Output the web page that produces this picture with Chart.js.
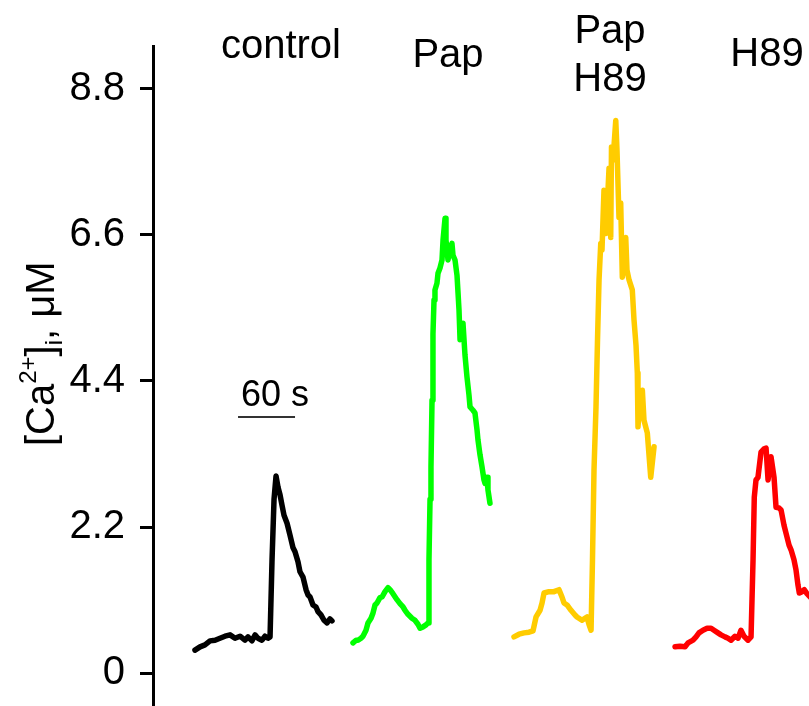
<!DOCTYPE html>
<html>
<head>
<meta charset="utf-8">
<script src="https://cdn.jsdelivr.net/npm/chart.js@4"></script>
<style>
  html, body { margin: 0; padding: 0; background: #fff; }
  canvas { display: block; }
</style>
</head>
<body>
<canvas id="ca-chart" width="809" height="706"></canvas>
<script>
  // time in s, [Ca2+]i in uM
  const conditions = ['control', 'Pap', ['Pap', 'H89'], 'H89'];
  const traceColors = ['#000000', '#00ff00', '#ffcc00', '#ff0000'];
  const yTicks = [0, 2.2, 4.4, 6.6, 8.8];

  const timeControl = [44.2, 49.5, 54.7, 60.0, 65.3, 70.5, 75.8, 81.1, 86.3, 91.6,
    96.8, 100.0, 104.2, 107.4, 110.5, 114.7, 117.9, 121.1, 123.2, 125.3,
    127.4, 129.5, 131.6, 133.7, 135.8, 137.9, 141.1, 144.2, 147.4, 149.5,
    152.6, 154.7, 157.9, 161.1, 163.2, 165.3, 168.4, 171.6, 173.7, 176.8,
    180.0, 183.2, 186.3, 188.4];
  const caControl = [0.35, 0.40, 0.43, 0.49, 0.50, 0.53, 0.56, 0.58, 0.53, 0.56,
    0.50, 0.55, 0.49, 0.58, 0.53, 0.50, 0.56, 0.53, 0.55, 1.71,
    2.62, 2.97, 2.80, 2.69, 2.53, 2.38, 2.26, 2.08, 1.89, 1.83,
    1.68, 1.53, 1.45, 1.26, 1.18, 1.15, 1.03, 1.00, 0.93, 0.88,
    0.80, 0.76, 0.82, 0.79];

  const timePap = [210.5, 213.7, 215.8, 218.9, 221.0, 224.2, 226.3, 229.5, 231.6, 233.7,
    235.8, 238.9, 241.1, 244.2, 247.4, 249.5, 252.6, 256.8, 260.0, 263.2,
    265.3, 268.4, 272.6, 275.8, 278.9, 281.1, 284.2, 287.4, 289.5, 290.5,
    291.6, 292.6, 293.7, 294.7, 295.8, 296.8, 298.9, 300.0, 302.1, 304.2,
    305.3, 307.4, 308.4, 310.5, 312.6, 314.7, 315.8, 317.9, 320.0, 321.1,
    322.1, 323.2, 325.3, 326.3, 328.4, 330.5, 332.6, 333.7, 336.8, 338.9,
    341.1, 342.1, 344.2, 346.3, 348.4, 349.5, 351.6, 352.6, 354.7];
  const caPap = [0.46, 0.50, 0.50, 0.53, 0.56, 0.65, 0.76, 0.83, 0.91, 1.03,
    1.06, 1.14, 1.15, 1.23, 1.29, 1.26, 1.20, 1.11, 1.05, 1.00,
    0.95, 0.89, 0.83, 0.80, 0.74, 0.68, 0.70, 0.73, 0.76, 1.71,
    2.62, 3.11, 4.11, 5.11, 5.62, 5.77, 5.87, 6.02, 6.10, 6.22,
    6.52, 6.85, 6.52, 6.22, 6.37, 6.47, 6.29, 6.22, 5.99, 5.72,
    5.47, 5.02, 5.17, 5.27, 4.79, 4.46, 4.19, 4.01, 3.96, 3.92,
    3.66, 3.51, 3.29, 3.11, 2.91, 2.86, 2.95, 2.76, 2.56];

  const timePapH89 = [380.0, 385.3, 390.5, 395.8, 400.0, 403.2, 407.4, 409.5, 411.6, 416.8,
    422.1, 427.4, 430.5, 432.6, 435.8, 440.0, 444.2, 446.3, 451.6, 454.7,
    456.8, 458.9, 461.1, 462.6, 464.2, 466.3, 467.9, 469.5, 471.3, 472.6,
    474.7, 476.8, 480.0, 481.8, 482.6, 484.2, 487.1, 488.4, 490.5, 492.3,
    494.0, 495.8, 497.6, 498.9, 501.1, 504.5, 506.3, 508.4, 509.8, 510.5,
    512.6, 515.1, 516.8, 520.3, 523.9, 527.4];
  const caPapH89 = [0.55, 0.59, 0.61, 0.62, 0.64, 0.85, 0.95, 1.06, 1.21, 1.23,
    1.23, 1.26, 1.15, 1.06, 1.03, 0.95, 0.88, 0.85, 0.80, 0.83,
    0.85, 0.74, 0.65, 1.71, 3.06, 4.01, 5.02, 5.92, 6.47, 6.37,
    7.27, 6.62, 7.60, 6.56, 7.92, 7.72, 8.32, 7.87, 6.86, 7.08,
    5.96, 6.22, 6.56, 6.07, 5.92, 5.77, 5.32, 4.94, 4.52, 3.71,
    4.11, 4.26, 3.81, 3.62, 2.95, 3.41];

  const timeH89 = [549.5, 554.7, 560.0, 563.2, 568.4, 571.6, 574.7, 578.9, 583.2, 587.4,
    590.5, 594.7, 597.9, 602.1, 605.3, 608.4, 612.6, 615.8, 618.9, 622.1,
    626.3, 629.5, 631.6, 632.9, 634.7, 636.8, 640.0, 643.2, 645.3, 647.4,
    650.5, 653.7, 655.8, 658.9, 661.1, 664.2, 666.3, 669.5, 671.6, 674.7,
    676.8, 678.9, 680.3, 683.2, 685.6, 688.4, 691.6, 694.7];
  const caH89 = [0.40, 0.41, 0.40, 0.46, 0.50, 0.55, 0.61, 0.65, 0.68, 0.68,
    0.65, 0.61, 0.58, 0.55, 0.53, 0.50, 0.56, 0.53, 0.65, 0.56,
    0.50, 0.55, 1.71, 2.65, 2.91, 2.95, 3.33, 3.38, 3.39, 2.91,
    3.26, 2.95, 2.50, 2.49, 2.46, 2.23, 2.11, 1.93, 1.86, 1.71,
    1.56, 1.33, 1.21, 1.23, 1.26, 1.20, 1.15, 1.11];

  const scaleBarSeconds = 60;

  const FONT = '"Liberation Sans", Arial, sans-serif';

  function toPoints(times, values) {
    return times.map((t, i) => ({ x: t, y: values[i] }));
  }

  const traces = [
    toPoints(timeControl, caControl),
    toPoints(timePap, caPap),
    toPoints(timePapH89, caPapH89),
    toPoints(timeH89, caH89),
  ];

  // labels, scale bar and axis title drawn on top
  const annotations = {
    id: 'annotations',
    afterDraw(chart) {
      const ctx = chart.ctx;
      const x = chart.scales.x;
      const y = chart.scales.y;

      ctx.save();
      ctx.fillStyle = '#000';
      ctx.textAlign = 'center';
      ctx.textBaseline = 'alphabetic';
      ctx.font = '40px ' + FONT;

      // condition labels above each trace
      const labelX = [134.7, 310.5, 481.0, 646.3];
      const labelBase = [58, 67, 43, 66];
      conditions.forEach((label, i) => {
        const px = x.getPixelForValue(labelX[i]);
        const lines = Array.isArray(label) ? label : [label];
        lines.forEach((line, j) => {
          ctx.fillText(line, px, labelBase[i] + j * 48);
        });
      });

      // 60 s scale bar
      const barStart = 89.5;
      const barY = y.getPixelForValue(3.86);
      ctx.strokeStyle = '#333';
      ctx.lineWidth = 2;
      ctx.beginPath();
      ctx.moveTo(x.getPixelForValue(barStart), barY);
      ctx.lineTo(x.getPixelForValue(barStart + scaleBarSeconds), barY);
      ctx.stroke();
      ctx.textAlign = 'left';
      ctx.font = '36px ' + FONT;
      ctx.fillText(scaleBarSeconds + ' s', x.getPixelForValue(92.5), barY - 11);

      // y axis title: [Ca2+]i, uM
      ctx.translate(54, 446);
      ctx.rotate(-Math.PI / 2);
      let cx = 0;
      const part = (text, size, dy) => {
        ctx.font = size + 'px ' + FONT;
        ctx.fillText(text, cx, dy);
        cx += ctx.measureText(text).width;
      };
      part('[Ca', 40, 0);
      part('2+', 24, -18);
      part(']', 40, 0);
      part('i', 24, 8);
      part(', \u03bcM', 40, 0);
      ctx.restore();
    },
  };

  new Chart(document.getElementById('ca-chart'), {
    type: 'line',
    data: {
      datasets: traces.map((pts, i) => ({
        label: Array.isArray(conditions[i]) ? conditions[i].join(' ') : conditions[i],
        data: pts,
        borderColor: traceColors[i],
        backgroundColor: traceColors[i],
        borderWidth: 5.5,
        pointRadius: 0,
        tension: 0,
        borderJoinStyle: 'round',
        borderCapStyle: 'round',
      })),
    },
    options: {
      responsive: false,
      animation: false,
      devicePixelRatio: 1,
      layout: { padding: { top: 46, left: 0, right: 0, bottom: 0 } },
      plugins: {
        legend: { display: false },
        tooltip: { enabled: false },
      },
      scales: {
        x: {
          type: 'linear',
          display: false,
          min: 0,
          max: 690.5,
        },
        y: {
          min: -0.49,
          max: 9.44,
          afterBuildTicks(scale) {
            scale.ticks = yTicks.map((v) => ({ value: v }));
          },
          afterFit(scale) {
            scale.width = 153;
            scale.paddingTop = 0;
            scale.paddingBottom = 0;
          },
          ticks: {
            color: '#000',
            padding: 15,
            font: { family: FONT, size: 40 },
            callback: (v) => String(v),
          },
          border: { display: true, color: '#000', width: 3 },
          grid: {
            drawOnChartArea: false,
            drawTicks: true,
            tickLength: 13,
            tickWidth: 3,
            tickColor: '#000',
          },
        },
      },
    },
    plugins: [annotations],
  });
</script>
</body>
</html>
